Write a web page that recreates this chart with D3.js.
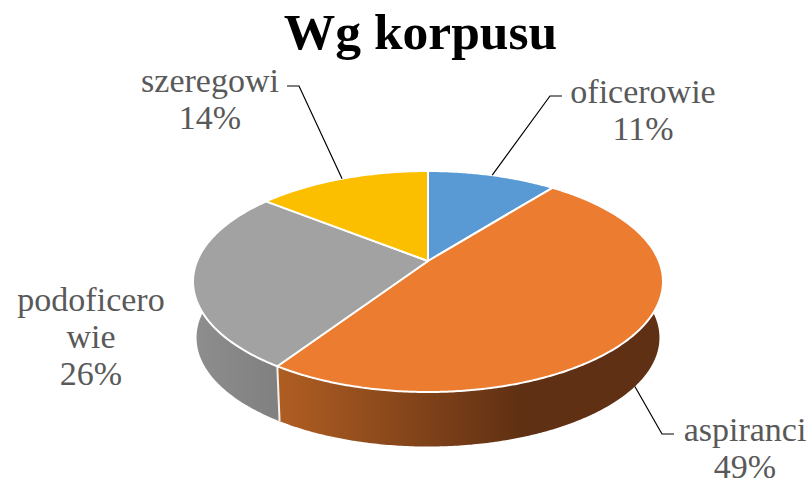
<!DOCTYPE html>
<html>
<head>
<meta charset="utf-8">
<script src="https://cdn.jsdelivr.net/npm/d3@7"></script>
<style>
  html, body { margin: 0; padding: 0; background: #fff; }
  svg { display: block; }
  text { font-family: "Liberation Serif", serif; }
</style>
</head>
<body>
<script>
// data
const categories = ["oficerowie", "aspiranci", "podoficerowie", "szeregowi"];
const values = [10.6, 48.7, 26.4, 14.3];
const labelLines = [["oficerowie"], ["aspiranci"], ["podoficero", "wie"], ["szeregowi"]];
const colors = ["#5A9AD4", "#EB7C30", "#A2A2A2", "#FCBF00"];

const width = 809;
const height = 481;

// pie in perspective
const cx = 428;
const cy = 261;
const k = 0.1855;
const ax = 230.9;
const ay = 106.7;
const wallDrop = 56.5;
const wallScale = 0.985;

function project(a, bottom) {
  const u = Math.sin(a);
  const v = Math.cos(a);
  const w = 1 + k * v;
  const s = bottom ? wallScale : 1;
  return [cx + s * ax * u / w, cy + (bottom ? wallDrop : 0) - s * ay * v / w];
}

function rim(a0, a1, bottom) {
  const n = Math.max(2, Math.ceil((a1 - a0) / 0.01));
  return d3.range(n + 1).map(i => project(a0 + (a1 - a0) * i / n, bottom));
}

const line = d3.line();
const total = d3.sum(values);
const pct = d3.format(".0%");
const pie = d3.pie().sort(null).value(d => d);
const arcs = pie(values);

const svg = d3.select("body").append("svg").attr("width", width).attr("height", height);

// wall gradients
const defs = svg.append("defs");
function wallGradient(id, stops) {
  const g = defs.append("linearGradient").attr("id", id)
    .attr("gradientUnits", "userSpaceOnUse")
    .attr("x1", 193).attr("x2", 663).attr("y1", 0).attr("y2", 0);
  stops.forEach(s => g.append("stop").attr("offset", s[0]).attr("stop-color", s[1]));
}
wallGradient("wall-orange", [[0, "#C66B26"], [0.18, "#B05E22"], [0.7, "#5F3013"], [1, "#5F3013"]]);
wallGradient("wall-gray", [[0, "#8E8E8E"], [0.18, "#808080"], [1, "#636363"]]);
const wallFill = ["#3F6E99", "url(#wall-orange)", "url(#wall-gray)", "#B88A00"];

// walls first, the top face covers the back part
svg.append("g").selectAll("path").data(arcs).enter().append("path")
  .attr("d", d => line(rim(d.startAngle, d.endAngle, false).concat(rim(d.startAngle, d.endAngle, true).reverse())) + "Z")
  .attr("fill", (d, i) => wallFill[i]);

// split line on the front between gray and orange
svg.append("path")
  .attr("d", line([project(arcs[1].endAngle, false), project(arcs[1].endAngle, true)]))
  .attr("fill", "none").attr("stroke", "#f4f1ee").attr("stroke-width", 2);

// top face
svg.append("g").selectAll("path").data(arcs).enter().append("path")
  .attr("d", d => line([[cx, cy]].concat(rim(d.startAngle, d.endAngle, false))) + "Z")
  .attr("fill", (d, i) => colors[i])
  .attr("stroke", "#fff")
  .attr("stroke-width", 2)
  .attr("stroke-linejoin", "round");

// leader lines
const labelPos = [
  { x: 643, y: 103, elbow: [[550, 96], [562, 96]], wall: false },
  { x: 745, y: 441, elbow: [[662, 434], [674, 434]], wall: true },
  { x: 91, y: 311, elbow: null },
  { x: 210, y: 92, elbow: [[299, 86], [287, 86]], wall: false }
];
svg.append("g").selectAll("path").data(arcs.filter((d, i) => labelPos[i].elbow)).enter().append("path")
  .attr("d", d => {
    const p = labelPos[d.index];
    return line([project((d.startAngle + d.endAngle) / 2, p.wall)].concat(p.elbow));
  })
  .attr("fill", "none")
  .attr("stroke", "#000")
  .attr("stroke-width", 1.2);

// labels
const lineHeight = 37;
const labels = svg.append("g").selectAll("text").data(categories).enter().append("text")
  .attr("text-anchor", "middle")
  .attr("font-size", 34)
  .attr("fill", "#595959");
labels.each(function (d, i) {
  const rows = labelLines[i].concat(pct(values[i] / total));
  d3.select(this).selectAll("tspan").data(rows).enter().append("tspan")
    .attr("x", labelPos[i].x)
    .attr("y", (r, j) => labelPos[i].y + j * lineHeight)
    .text(r => r);
});

// title
svg.append("text")
  .attr("x", 420.5)
  .attr("y", 49)
  .attr("text-anchor", "middle")
  .attr("font-size", 51.5)
  .attr("font-weight", "bold")
  .attr("fill", "#000")
  .text("Wg korpusu");
</script>
</body>
</html>
